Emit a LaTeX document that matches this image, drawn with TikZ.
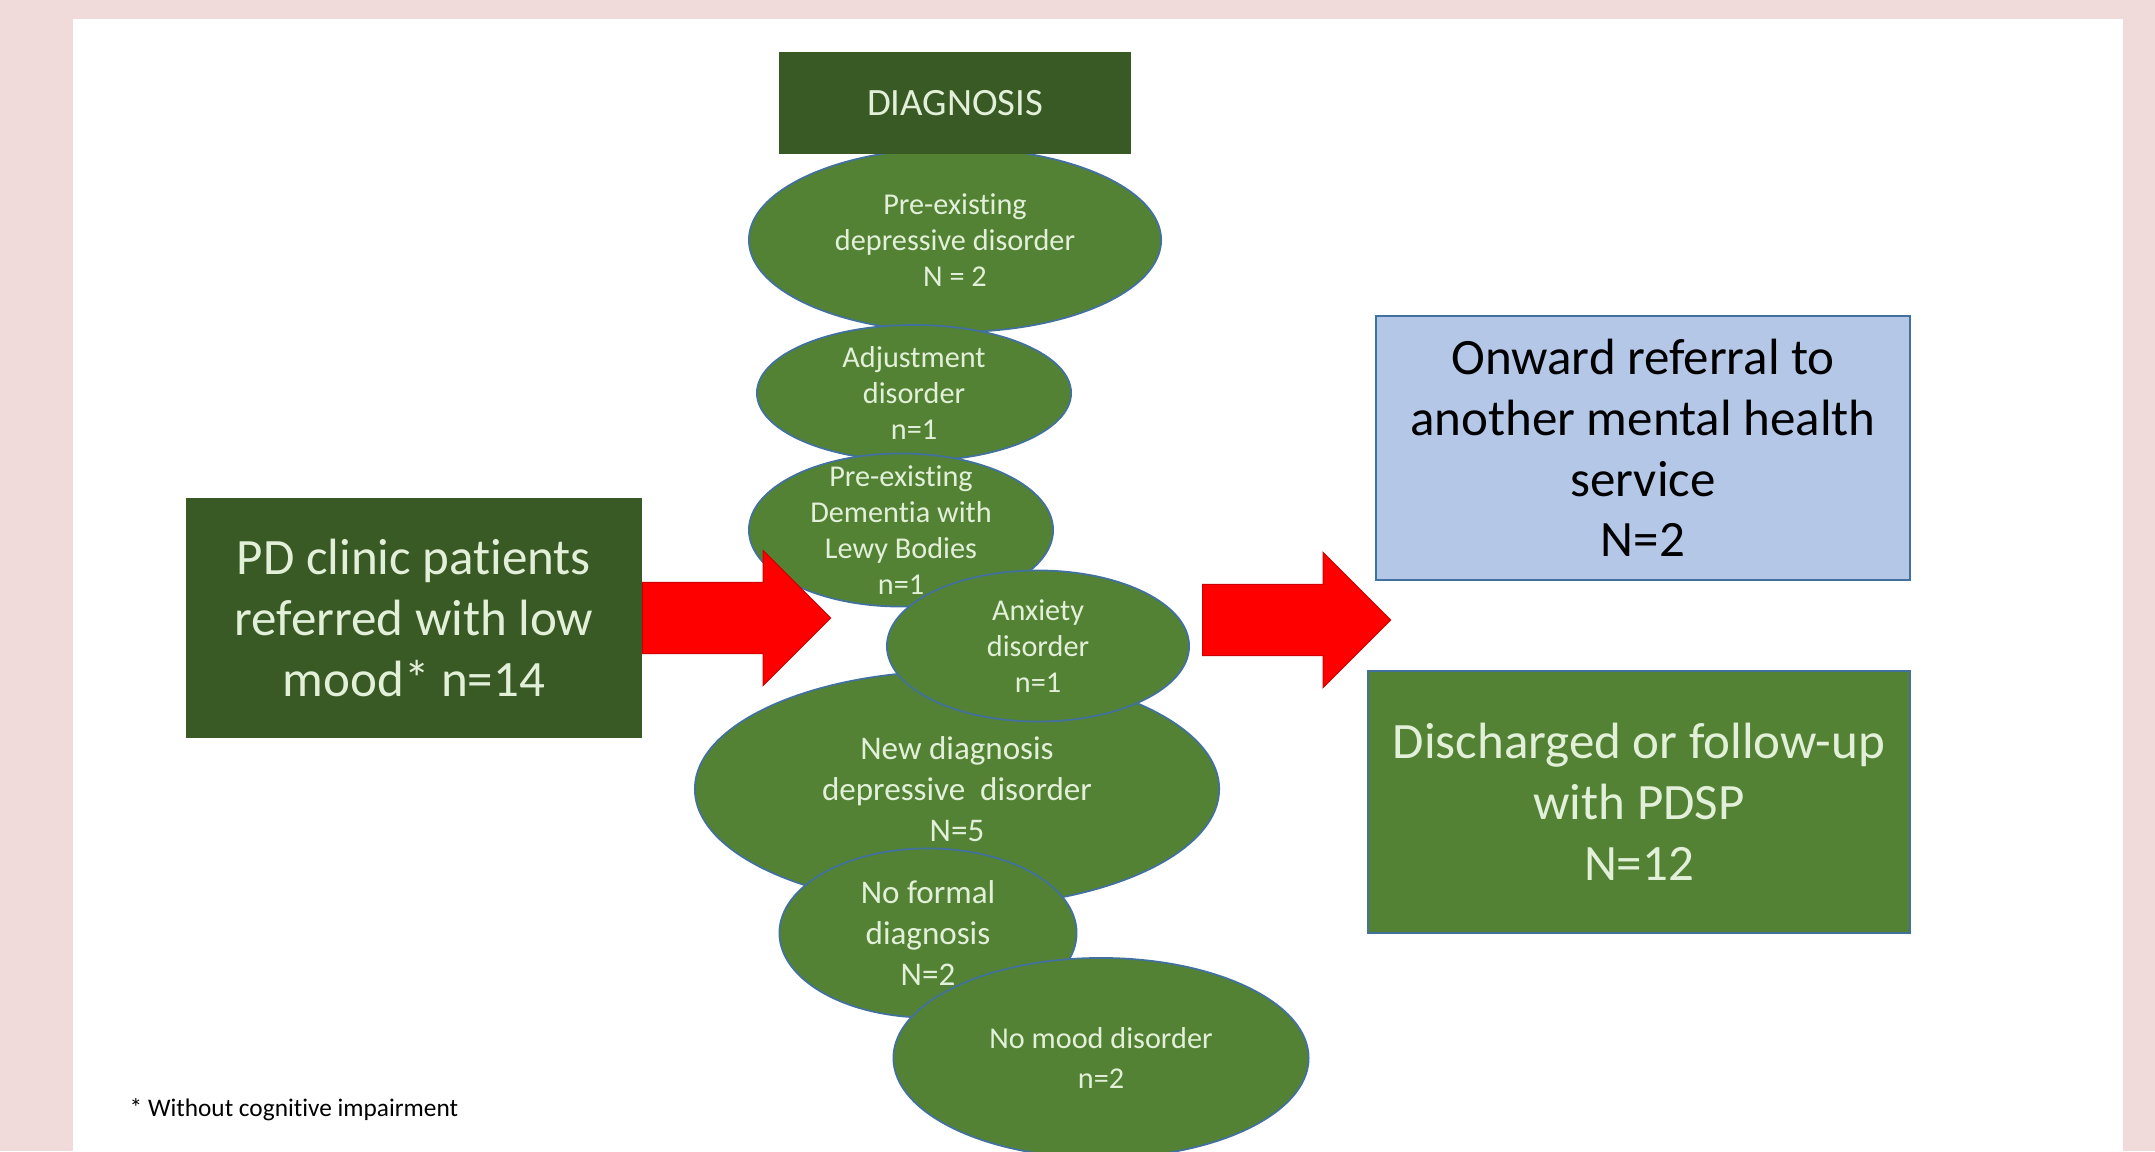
\documentclass[tikz,border=0pt]{standalone}
\usepackage{fontspec}
\setmainfont{Carlito}[Ligatures=CommonOff]
\usetikzlibrary{shapes.geometric,shapes.arrows}

\definecolor{pinkbg}{HTML}{F0DADA}
\definecolor{darkgrn}{HTML}{3A5A25}
\definecolor{midgrn}{HTML}{548235}
\definecolor{rimblue}{HTML}{41719C}
\definecolor{paleblue}{HTML}{B4C7E7}
\definecolor{palegrn}{HTML}{E2F0D9}

\tikzset{
  darkbox/.style={rectangle, fill=darkgrn, inner sep=0pt, align=center, text=palegrn},
  outbox/.style={rectangle, draw=rimblue, line width=0.5pt, inner sep=0pt, align=center,
                 font=\fontsize{14.5}{17.3}\selectfont},
  diag/.style={ellipse, fill=midgrn, draw=rimblue, line width=0.5pt, inner sep=0pt},
  dtext/.style={align=center, text=palegrn, inner sep=0pt, font=\fontsize{8.6}{10.3}\selectfont},
  dtextbig/.style={dtext, font=\fontsize{9.4}{11.7}\selectfont},
  fatarrow/.style={single arrow, fill=red, draw=red!80!black, line width=0.3pt,
                   inner xsep=0pt, inner ysep=0.35cm, minimum height=1.88cm,
                   single arrow head extend=0.32cm, single arrow head indent=0pt, anchor=tail}
}

\begin{document}
\begin{tikzpicture}[x=0.01cm, y=-0.01cm]
    \useasboundingbox (0,0) rectangle (2155,1151);
    \fill[pinkbg] (0,0) rectangle (2155,1151);
    \fill[white] (73,19) rectangle (2123,1151); % panell blanc

    \node[darkbox, minimum width=4.56cm, minimum height=2.40cm, font=\fontsize{14.5}{17.3}\selectfont]
        (patients) at (414,618) {PD clinic patients\\referred with low\\mood* n=14};

    % el·lipses de diagnosi, de dalt a baix
    \node[diag, minimum width=4.12cm, minimum height=1.84cm,
          label={[dtext, name=t1]center:{Pre-existing\\depressive disorder\\N = 2}}] (predep) at (955,240) {};
    \node[diag, minimum width=3.14cm, minimum height=1.36cm,
          label={[dtext, name=t2]center:{Adjustment\\disorder\\n=1}}] (adjust) at (914,393) {};
    \node[diag, minimum width=3.04cm, minimum height=1.53cm,
          label={[dtext, name=t3]center:{Pre-existing\\Dementia with\\Lewy Bodies\\n=1}}] (lewy) at (901,530) {};
    \node[diag, minimum width=5.24cm, minimum height=2.36cm,
          label={[dtextbig, name=t5]center:{New diagnosis\\depressive\ \ disorder\\N=5}}] (newdep) at (957,789) {};
    \node[diag, minimum width=3.02cm, minimum height=1.51cm,
          label={[dtext, name=t4]center:{Anxiety\\disorder\\n=1}}] (anxiety) at (1038,646) {};
    \node[diag, minimum width=2.97cm, minimum height=1.69cm,
          label={[dtextbig, name=t6]center:{No formal\\diagnosis\\N=2}}] (noformal) at (928,933) {};
    \node[diag, minimum width=4.15cm, minimum height=2.00cm,
          label={[dtext, name=t7]center:{No mood disorder\\[1pt]n=2}}] (nomood) at (1101,1058) {};

    \node[darkbox, minimum width=3.51cm, minimum height=1.02cm, font=\fontsize{11}{13}\selectfont]
        (diagnosis) at (955,103) {DIAGNOSIS};

    % fletxes
    \node[fatarrow] (arrin) at (642,618) {};
    \node[fatarrow] (arrout) at (1202,620) {};

    \node[outbox, fill=paleblue, minimum width=5.33cm, minimum height=2.64cm]
        (onward) at (1643,448) {Onward referral to\\another mental health\\service\\N=2};
    \node[outbox, fill=midgrn, text=palegrn, minimum width=5.42cm, minimum height=2.62cm]
        (discharged) at (1639,802) {Discharged or follow-up\\with PDSP\\N=12};

    \node[anchor=west, inner sep=0pt, font=\fontsize{7.2}{8.6}\selectfont]
        (note) at (129,1110) {* Without cognitive impairment};
\end{tikzpicture}
\end{document}
